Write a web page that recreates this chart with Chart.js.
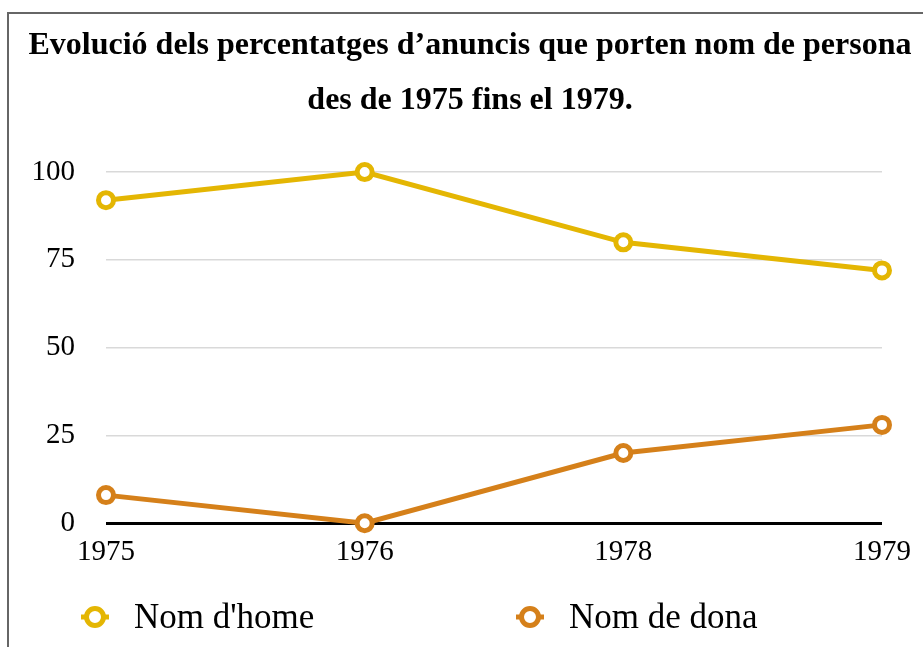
<!DOCTYPE html>
<html>
<head>
<meta charset="utf-8">
<script src="https://cdn.jsdelivr.net/npm/chart.js@4"></script>
<style>
  html, body { margin: 0; padding: 0; background: #fff; overflow: hidden; }
  #wrap { position: relative; width: 923px; height: 647px; }
  #frame { position: absolute; left: 7px; top: 12px; width: 1000px; height: 1000px;
           border-top: 2px solid #666; border-left: 2px solid #666; }
  canvas { position: absolute; left: 0; top: 0; }
  .legend-item { position: absolute; top: 596px; height: 42px; display: flex; align-items: center;
                 font-family: "Liberation Serif", serif; font-size: 35px; color: #000; }
  .legend-item svg { margin-right: 25px; }
</style>
</head>
<body>
<div id="wrap">
  <div id="frame"></div>
  <canvas id="chart" width="923" height="647"></canvas>
  <div class="legend-item" id="leg0" style="left:81px"></div>
  <div class="legend-item" id="leg1" style="left:516px"></div>
</div>
<script>
const years = ["1975", "1976", "1978", "1979"];
const nomHome = [92, 100, 80, 72];
const nomDona = [8, 0, 20, 28];
const yTicks = [0, 25, 50, 75, 100];
const seriesNames = ["Nom d'home", "Nom de dona"];
const colors = ["#E4B603", "#D5801A"];

const titleLines = [
    "Evolució dels percentatges d\u2019anuncis que porten nom de persona",
    "des de 1975 fins el 1979."
];

function series(data, i) {
    return {
        label: seriesNames[i],
        data: data,
        borderColor: colors[i],
        backgroundColor: "#fff",
        pointBackgroundColor: "#fff",
        pointBorderColor: colors[i],
        borderWidth: 5,
        pointRadius: 7.5,
        pointBorderWidth: 5,
        pointHoverRadius: 7.5,
        tension: 0,
        clip: false
    };
}

new Chart(document.getElementById("chart").getContext("2d"), {
    type: "line",
    data: {
        labels: years,
        datasets: [series(nomHome, 0), series(nomDona, 1)]
    },
    options: {
        responsive: false,
        animation: false,
        events: [],
        layout: { padding: { left: 17, right: 0, top: 0, bottom: 65 } },
        plugins: {
            legend: { display: false },
            tooltip: { enabled: false },
            title: {
                display: true,
                text: titleLines,
                color: "#000",
                font: { family: "Liberation Serif", size: 32, weight: "bold", lineHeight: 1.72 },
                padding: { top: 18, bottom: 44 }
            }
        },
        scales: {
            x: {
                offset: false,
                grid: { display: false, drawTicks: false },
                border: { display: false },
                ticks: {
                    color: "#000",
                    font: { family: "Liberation Serif", size: 29 },
                    padding: 12,
                    maxRotation: 0,
                    autoSkip: false
                },
                afterFit: scale => { scale.paddingRight = 41; }
            },
            y: {
                min: 0,
                max: 100,
                afterBuildTicks: scale => { scale.ticks = yTicks.map(v => ({ value: v })); },
                grid: {
                    drawTicks: false,
                    color: c => c.tick && c.tick.value === 0 ? "#000" : "#d9d9d9",
                    lineWidth: c => c.tick && c.tick.value === 0 ? 3 : 1.5
                },
                border: { display: false },
                ticks: {
                    color: "#000",
                    font: { family: "Liberation Serif", size: 29 },
                    padding: 31
                },
                afterFit: scale => { scale.width = 89; }
            }
        }
    }
});

// legend below the plot
seriesNames.forEach((name, i) => {
    const el = document.getElementById("leg" + i);
    el.innerHTML =
        '<svg width="28" height="24" viewBox="0 0 28 24">' +
        '<line x1="0" y1="12" x2="28" y2="12" stroke="' + colors[i] + '" stroke-width="5"/>' +
        '<circle cx="14" cy="12" r="8.5" fill="#fff" stroke="' + colors[i] + '" stroke-width="5"/>' +
        '</svg>';
    el.appendChild(document.createTextNode(name));
});
</script>
</body>
</html>
